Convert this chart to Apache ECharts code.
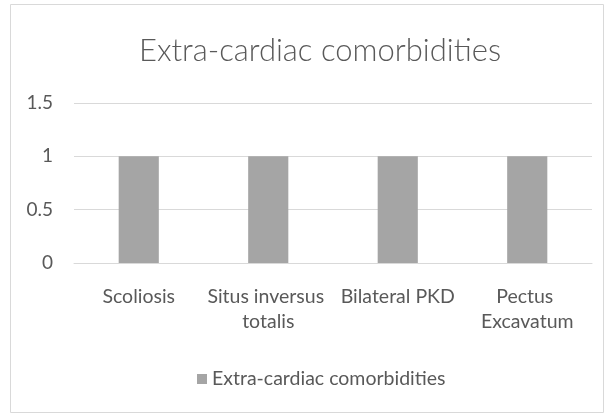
<!DOCTYPE html>
<html><head><meta charset="utf-8">
<script src="https://cdn.jsdelivr.net/npm/echarts@6/dist/echarts.min.js"></script>
<style>html,body{margin:0;padding:0;background:#fff}#c{width:616px;height:414px}</style>
</head><body><div id="c"></div>
<script>
const titleText = 'Extra-cardiac comorbidities';
const seriesName = 'Extra-cardiac comorbidities';
const categories = ['Scoliosis', 'Situs inversus totalis', 'Bilateral PKD', 'Pectus Excavatum'];
const values = [1, 1, 1, 1];
const yTicks = [0, 0.5, 1, 1.5];

const font = 'Lato, Calibri, sans-serif';
const chart = echarts.init(document.getElementById('c'));
chart.setOption({
  animation: false,
  graphic: [{type:'rect', shape:{x:10.5,y:4.5,width:593,height:408}, style:{fill:'none', stroke:'#d9d9d9', lineWidth:1}}],
  title: {text: titleText, left: 315, textAlign: 'center', top: 30, textStyle:{fontFamily:font, fontWeight:300, fontSize:31, color:'#595959'}},
  legend: {top: 364, left: 192, itemWidth: 10, itemHeight: 10, itemGap: 10, icon: 'rect', textStyle:{fontFamily:font, fontSize:19.5, color:'#595959'}},
  grid: {left: 74, right: 24, top: 103, bottom: 151},
  xAxis: {type:'category', data: categories,
    axisLine:{lineStyle:{color:'#d9d9d9'}}, axisTick:{show:false},
    axisLabel:{fontFamily:font, fontSize:19.5, color:'#595959', margin:21, width:128, overflow:'break', lineHeight:25, interval:0}},
  yAxis: {type:'value', min: yTicks[0], max: yTicks[yTicks.length-1], interval: 0.5,
    axisLine:{show:false}, axisTick:{show:false},
    splitLine:{lineStyle:{color:'#d9d9d9'}},
    axisLabel:{fontFamily:font, fontSize:19, color:'#595959', margin:21}},
  series: [{name: seriesName, type:'bar', data: values, barWidth: '31%', itemStyle:{color:'#a5a5a5'}}]
});
</script></body></html>
